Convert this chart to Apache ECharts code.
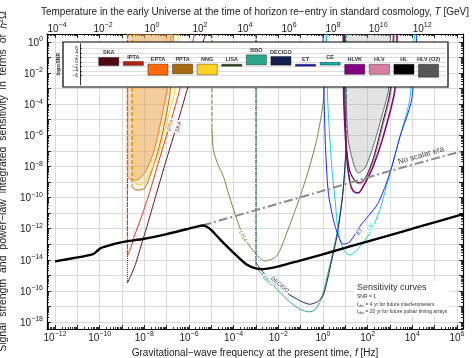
<!DOCTYPE html>
<html>
<head>
<meta charset="utf-8">
<script src="https://cdn.jsdelivr.net/npm/echarts@6/dist/echarts.min.js"></script>
<style>
  html, body { margin: 0; padding: 0; background: #fff; }
  #chart { width: 473px; height: 358px; }
</style>
</head>
<body>
<div id="chart"></div>
<script>
// all values are log10: x = log10(f / Hz), y = log10(h^2 Omega)
var X_MIN = -12.36, X_MAX = 6.27;
var Y_MIN = -18.45, Y_MAX = 0.51;

// top axis: temperature ticks and where they sit on the frequency axis
var tTickExp = [-4, -2, 0, 2, 4, 6, 8, 10, 12];
var tTickPos = [-11.91, -9.85, -7.66, -5.51, -3.49, -1.52, 0.45, 2.47, 4.44];

var xLabelVals = [-12, -10, -8, -6, -4, -2, 0, 2, 4, 6];
var yLabelVals = [0, -2, -4, -6, -8, -10, -12, -14, -16, -18];

// signal
var signal = [[-12, -14.1], [-11, -13.85], [-10.45, -13.7], [-10.25, -13.6], [-10.1, -13.42], [-9.95, -13.25],
  [-9.5, -13.05], [-9, -12.87], [-8, -12.65], [-7, -12.35], [-6, -12.0], [-5.6, -11.85], [-5.4, -11.8],
  [-5.2, -11.88], [-5.0, -12.1], [-4.6, -12.7], [-4.0, -13.55], [-3.42, -14.3], [-2.97, -14.57],
  [-2.67, -14.6], [-1.92, -14.4], [-1.03, -14.05], [-0.13, -13.7], [0.76, -13.33], [1.66, -12.96],
  [2.85, -12.48], [4.35, -11.86], [6.27, -11.07]];
var noScalar = [[-5.4, -11.8], [-0.13, -9.62], [2.85, -8.35], [6.27, -7.0]];

// sensitivity curves (cut = low-frequency cut-off, drawn dotted/dashed)
var skaCut = -8.76;
var ska = [[-8.76, -15.5], [-8.6, -15.0], [-8.4, -14.3], [-8.19, -13.3], [-7.88, -11.84], [-7.5, -9.95],
  [-7.0, -7.5], [-6.56, -5.43], [-5.95, -2.44], [-5.25, 0.51]];
var iptaCut = -8.76;
var ipta = [[-8.76, -13.76], [-8.6, -13.2], [-8.45, -12.48], [-8.12, -11.2], [-7.75, -9.6], [-7.3, -7.4],
  [-6.85, -5.3], [-6.48, -3.4], [-5.75, 0.51]];
var eptaCut = -8.74;
var epta = [[-8.74, -8.7], [-8.6, -8.85], [-8.4, -8.88], [-8.15, -8.7], [-7.9, -8.2], [-7.6, -7.14],
  [-7.37, -5.85], [-7.22, -4.79], [-7.07, -3.72], [-6.97, -2.97], [-6.8, 0.51]];
var pptaCut = -8.55;
var ppta = [[-8.55, -9.3], [-8.4, -9.5], [-8.2, -9.52], [-7.97, -9.38], [-7.7, -8.42], [-7.45, -7.35],
  [-7.22, -6.07], [-7.0, -4.57], [-6.85, -3.29], [-6.7, 0.51]];
var nngCut = -8.45;
var nng = [[-8.45, -9.0], [-8.3, -9.17], [-8.05, -9.1], [-7.8, -8.5], [-7.45, -7.56], [-7.15, -6.07],
  [-6.85, -4.36], [-6.63, -3.08], [-6.48, 0.51]];
var lisaCut = -4.97;
var lisa = [[-4.97, -5.5], [-4.91, -6.92], [-4.7, -7.9], [-4.46, -8.63], [-4.2, -9.9], [-3.86, -11.4],
  [-3.57, -12.48], [-3.12, -13.44], [-2.6, -14.08], [-2.07, -13.76], [-1.62, -12.26], [-1.18, -10.56],
  [-0.73, -8.63], [-0.28, -6.28], [0.02, -3.72], [0.15, 0.51]];
var spaceCut = -3.0;
var spaceCutHigh = 1.05;
var bbo = [[-3.0, -14.5], [-2.8, -14.83], [-2.2, -15.69], [-1.62, -16.54], [-1.03, -17.18], [-0.6, -17.35],
  [-0.35, -17.2], [-0.1, -16.6], [0.05, -15.9], [0.2, -15.0], [0.35, -14.1], [0.65, -12.1], [0.9, -9.5],
  [1.05, -6.5]];
var decigo = [[-3.0, -14.2], [-2.8, -14.6], [-2.4, -15.26], [-1.65, -16.11], [-1.0, -16.65], [-0.6, -16.86],
  [-0.25, -16.7], [0.0, -16.3], [0.15, -15.6], [0.35, -14.3], [0.65, -12.3], [0.9, -9.6], [1.05, -6.5]];
var et = [[0.0, 0.51], [0.05, -3.72], [0.12, -7.0], [0.24, -9.7], [0.46, -11.4], [0.69, -12.48], [0.9, -13.0],
  [1.2, -12.85], [1.66, -11.84], [2.45, -10.4], [3.0, -8.42], [3.45, -6.07], [3.97, -3.72], [4.2, 0.51]];
var ce = [[0.15, 0.51], [0.21, -3.72], [0.39, -7.99], [0.54, -10.13], [0.69, -12.26], [0.91, -13.33],
  [1.2, -13.7], [1.5, -13.4], [2.11, -12.26], [2.55, -10.77], [3.0, -8.42], [3.45, -6.07], [3.88, -3.72],
  [4.1, 0.51]];
var hlvk = [[0.91, 0.51], [0.92, -3.08], [1.06, -7.35], [1.21, -9.06], [1.36, -9.6], [1.58, -9.7],
  [1.81, -9.27], [2.25, -7.99], [2.7, -6.07], [3.22, -3.08], [3.32, 0.51]];
var hlv = [[0.99, 0.51], [1.0, -4.0], [1.07, -6.9], [1.22, -8.4], [1.47, -9.05], [1.67, -9.12],
  [1.92, -8.85], [2.3, -7.5], [2.7, -5.3], [3.05, -3.2], [3.2, 0.51]];
var hl = [[0.97, 0.51], [0.98, -4.0], [1.05, -6.8], [1.2, -8.3], [1.45, -8.95], [1.65, -9.05],
  [1.9, -8.75], [2.25, -7.5], [2.65, -5.3], [3.0, -3.2], [3.15, 0.51]];
var hlvO2 = [[1.0, 0.51], [1.02, -3.08], [1.13, -6.28], [1.36, -7.78], [1.58, -8.42], [1.88, -8.1],
  [2.25, -6.71], [2.63, -4.79], [2.93, -3.08], [3.02, 0.51]];

// labels written along the curves: [log f, log Omega, text, angle]
var curveLabels = [
  [-6.83, -5.38, 'IPTA', 75], [-6.47, -5.45, 'SKA', 75], [-3.58, -12.5, 'LISA', -63],
  [-2.48, -15.35, 'BBO', -45], [-1.93, -15.6, 'DECIGO', -40], [1.64, -12.2, 'ET', 45], [2.13, -11.9, 'CE', 50]
];

// inset: log10 SNR ranges
var experiments = ['SKA', 'IPTA', 'EPTA', 'PPTA', 'NNG', 'LISA', 'BBO', 'DECIGO', 'ET', 'CE', 'HLVK', 'HLV', 'HL', 'HLV (O2)'];
var snrLow = [-1.6, -1.5, -5.8, -5.2, -5.6, -1.85, -1.3, -1.4, -1.85, -1.35, -5.4, -5.4, -5.4, -6.7];
var snrHigh = [2.0, 0.2, -0.95, -0.95, -0.95, -1.0, 3.1, 2.4, -1.0, -0.2, -1.0, -1.0, -1.0, -1.0];

var col = {
  SKA: '#6a1424', IPTA: '#e3331b', EPTA: '#ff7a12', PPTA: '#a8700f', NNG: '#ffd21e', LISA: '#6f8f3b',
  BBO: '#2ba58b', DECIGO: '#1b2456', ET: '#2323ff', CE: '#10d2de', HLVK: '#7d0a7d', HLV: '#d9789c',
  HL: '#111111', 'HLV (O2)': '#666666'
};
var barCol = ['#4e0a10', '#b3200e', '#ff6a0a', '#a86a10', '#ffd324', '#2e4a1f', '#2ca68a', '#121f50',
  '#2020c0', '#00b4b4', '#800080', '#d97f9f', '#000000', '#555555'];

var FONT = 'Liberation Sans';

function pow10(v) {
  var n = Math.round(v);
  return '{b|10}{s|' + (n < 0 ? '\u2212' + (-n) : n) + '}';
}
var richPow = {
  b: { fontSize: 10, fontFamily: FONT, color: '#222', verticalAlign: 'bottom' },
  s: { fontSize: 7, fontFamily: FONT, color: '#222', verticalAlign: 'bottom', padding: [0, 0, 5, 0] }
};

var majorX = [], minorX = [], majorY = [], minorY = [];
for (var d = -13; d <= 7; d++) {
  if (d > X_MIN && d < X_MAX) majorX.push(d);
  for (var k = 2; k <= 9; k++) {
    var v = d + Math.log10(k);
    if (v > X_MIN && v < X_MAX) minorX.push(v);
  }
}
for (var e = -19; e <= 1; e++) {
  if (e > Y_MIN && e < Y_MAX) majorY.push(e);
  for (var k2 = 2; k2 <= 9; k2++) {
    var w = e + Math.log10(k2);
    if (w > Y_MIN && w < Y_MAX) minorY.push(w);
  }
}

function tickAxis(pos, vals, len, isX) {
  return {
    gridIndex: 0, type: 'value', position: pos, min: isX ? X_MIN : Y_MIN, max: isX ? X_MAX : Y_MAX,
    axisLine: { show: false, onZero: false }, splitLine: { show: false }, axisLabel: { show: false },
    axisTick: { show: true, inside: true, length: len, customValues: vals, lineStyle: { color: '#000', width: 0.8 } }
  };
}

function line(data, color, width, type) {
  return {
    type: 'line', xAxisIndex: 0, yAxisIndex: 0, data: data, symbol: 'none', smooth: 0.25,
    lineStyle: { color: color, width: width, type: type || 'solid' }, silent: true, z: 3
  };
}
function cutLine(x, yBottom, color, type) {
  return line([[x, Y_MAX], [x, yBottom]], color, 1, type);
}
function area(cut, data, fill) {
  var s = line([[cut, Y_MAX]].concat(data), fill, 0);
  s.lineStyle.opacity = 0;
  s.areaStyle = { color: fill, origin: 'end' };
  s.z = 1;
  return s;
}

var series = [
  area(nngCut, nng, 'rgba(255,225,120,0.28)'),
  area(eptaCut, epta, 'rgba(240,140,50,0.45)'),
  area(pptaCut, ppta, 'rgba(200,130,60,0.15)'),
  area(hlvO2[0][0], hlvO2, 'rgba(150,150,150,0.38)'),
  cutLine(skaCut, ska[0][1], col.SKA, 'dotted'),
  line(ska, col.SKA, 1),
  cutLine(iptaCut, ipta[0][1], col.IPTA, 'dashed'),
  line(ipta, col.IPTA, 1),
  cutLine(eptaCut, epta[0][1], col.EPTA, 'dotted'),
  line(epta, col.EPTA, 1),
  cutLine(pptaCut, ppta[0][1], col.PPTA, 'dashed'),
  line(ppta, col.PPTA, 1),
  cutLine(nngCut, nng[0][1], col.NNG, 'dashed'),
  line(nng, col.NNG, 1),
  cutLine(lisaCut, lisa[0][1], col.LISA, 'dashed'),
  line(lisa, col.LISA, 1),
  cutLine(spaceCut, bbo[0][1], col.BBO, 'dashed'),
  cutLine(spaceCutHigh, bbo[bbo.length - 1][1], col.BBO, 'dashed'),
  line(bbo, col.BBO, 1),
  cutLine(spaceCut, decigo[0][1], col.DECIGO, 'dotted'),
  line(decigo, col.DECIGO, 1),
  line(ce, col.CE, 1),
  line(et, col.ET, 1),
  line(hlvO2, col['HLV (O2)'], 1),
  line(hlv, col.HLV, 1),
  line(hl, col.HL, 1),
  line(hlvk, col.HLVK, 1.6),
  (function () { var s = line(noScalar, '#8a8a8a', 2, [9, 3, 2, 3]); s.smooth = false; return s; })(),
  (function () { var s = line(signal, '#000', 2.4); s.z = 4; return s; })(),
  {
    type: 'custom', xAxisIndex: 0, yAxisIndex: 0, z: 6, silent: true,
    data: curveLabels.map(function (l) { return [l[0], l[1]]; }),
    renderItem: function (params, api) {
      var l = curveLabels[params.dataIndex];
      var p = api.coord([api.value(0), api.value(1)]);
      return {
        type: 'text', x: p[0], y: p[1], rotation: l[3] * Math.PI / 180,
        style: {
          text: l[2], fill: col[l[2]], font: '5.5px ' + FONT, align: 'center', verticalAlign: 'middle',
          backgroundColor: '#fff', padding: [0, 1]
        }
      };
    }
  },
  {
    type: 'custom', xAxisIndex: 0, yAxisIndex: 0, z: 6, silent: true,
    data: [[4.39, -7.3]],
    renderItem: function (params, api) {
      var p = api.coord([api.value(0), api.value(1)]);
      return {
        type: 'text', x: p[0], y: p[1], rotation: 16 * Math.PI / 180,
        style: { text: 'No scalar era', fill: '#444', font: '8px ' + FONT, align: 'center', verticalAlign: 'middle' }
      };
    }
  },
  {
    type: 'custom', xAxisIndex: 4, yAxisIndex: 4, z: 60, silent: true,
    data: experiments.map(function (n, i) { return [i, snrLow[i], snrHigh[i]]; }),
    renderItem: function (params, api) {
      var i = api.value(0);
      var a = api.coord([i - 0.41, api.value(2)]);
      var b = api.coord([i + 0.41, api.value(1)]);
      return {
        type: 'group', children: [
          { type: 'rect', shape: { x: a[0], y: a[1], width: b[0] - a[0], height: b[1] - a[1] },
            style: { fill: barCol[i], stroke: 'rgba(0,0,0,0.45)', lineWidth: 0.8 } },
          { type: 'text', x: (a[0] + b[0]) / 2, y: a[1] - 1.5,
            style: { text: experiments[i], fill: '#333', font: 'bold 5.5px ' + FONT, align: 'center', verticalAlign: 'bottom' } }
        ]
      };
    }
  }
];

var chart = echarts.init(document.getElementById('chart'), null, { renderer: 'canvas' });
chart.setOption({
  animation: false,
  backgroundColor: '#fff',
  grid: [
    { left: 47, right: 10, top: 34, bottom: 29, outerBoundsMode: 'none', containLabel: false },
    { left: 80, right: 27, top: 43.7, height: 41.1, outerBoundsMode: 'none', containLabel: false }
  ],
  xAxis: [
    {
      gridIndex: 0, type: 'value', position: 'bottom', min: X_MIN, max: X_MAX,
      axisLine: { show: true, onZero: false, lineStyle: { color: '#000', width: 1.2 } },
      axisTick: { show: true, inside: true, length: 4, customValues: majorX, lineStyle: { color: '#000', width: 0.8 } },
      axisLabel: { customValues: xLabelVals, formatter: pow10, rich: richPow, margin: 2 },
      splitLine: { show: true, lineStyle: { color: '#d2d2d2', width: 0.8 } },
      name: 'Gravitational\u2212wave frequency at the present time, {i|f} [Hz]',
      nameLocation: 'middle', nameGap: 15,
      nameTextStyle: { fontSize: 10, fontFamily: FONT, color: '#222', rich: { i: { fontSize: 10, fontStyle: 'italic', fontFamily: FONT, color: '#222' } } }
    },
    tickAxis('bottom', minorX, 2, true),
    {
      gridIndex: 0, type: 'value', position: 'top', min: X_MIN, max: X_MAX,
      axisLine: { show: true, onZero: false, lineStyle: { color: '#000', width: 1.2 } },
      axisTick: { show: true, inside: true, length: 4, customValues: majorX, lineStyle: { color: '#000', width: 0.8 } },
      axisLabel: {
        customValues: tTickPos, rich: richPow, margin: 0,
        formatter: function (v) {
          for (var i = 0; i < tTickPos.length; i++) if (Math.abs(tTickPos[i] - v) < 1e-6) return pow10(tTickExp[i]);
          return '';
        }
      },
      splitLine: { show: false },
      name: 'Temperature in the early Universe at the time of horizon re\u2212entry in standard cosmology, {i|T} [GeV]',
      nameLocation: 'middle', nameGap: 11,
      nameTextStyle: { fontSize: 10, fontFamily: FONT, color: '#222', rich: { i: { fontSize: 10, fontStyle: 'italic', fontFamily: FONT, color: '#222' } } }
    },
    tickAxis('top', minorX, 2, true),
    { gridIndex: 1, type: 'value', min: -1.17, max: 13.71, show: false }
  ],
  yAxis: [
    {
      gridIndex: 0, type: 'value', position: 'left', min: Y_MIN, max: Y_MAX,
      axisLine: { show: true, onZero: false, lineStyle: { color: '#000', width: 1.2 } },
      axisTick: { show: true, inside: true, length: 4, customValues: majorY, lineStyle: { color: '#000', width: 0.8 } },
      axisLabel: { customValues: yLabelVals, formatter: pow10, rich: richPow, margin: 4 },
      splitLine: { show: true, lineStyle: { color: '#d2d2d2', width: 0.8 } },
      name: 'Signal  strength  and  power\u2212law  integrated  sensitivity  in  terms  of  {i|h}{sup|2}\u03a9',
      nameLocation: 'middle', nameGap: 27, nameRotate: 90,
      nameTextStyle: {
        fontSize: 10.5, fontFamily: FONT, color: '#222',
        rich: {
          i: { fontSize: 10.5, fontStyle: 'italic', fontFamily: FONT, color: '#222' },
          sup: { fontSize: 7, fontFamily: FONT, color: '#222', padding: [0, 0, 5, 0], verticalAlign: 'bottom' }
        }
      }
    },
    tickAxis('left', minorY, 2, false),
    (function () { var a = tickAxis('right', majorY, 4, false); a.axisLine = { show: true, onZero: false, lineStyle: { color: '#000', width: 1.2 } }; return a; })(),
    tickAxis('right', minorY, 2, false),
    {
      gridIndex: 1, type: 'value', min: -10, max: 8, interval: 2, position: 'left', z: 60,
      axisLine: { show: true, onZero: false, lineStyle: { color: '#000', width: 0.8 } },
      axisTick: { show: true, inside: true, length: 2, customValues: [-6, -4, -2, 0, 2, 4, 6], lineStyle: { color: '#000', width: 0.6 } },
      axisLabel: {
        fontSize: 5, fontFamily: FONT, color: '#222', margin: 2,
        formatter: function (v) { return (v >= -6 && v <= 6) ? String(v).replace('-', '\u2212') : ''; }
      },
      splitLine: { show: true, lineStyle: { color: '#cfcfcf', width: 0.7 } },
      name: 'log{sub|10}SNR', nameLocation: 'middle', nameGap: 8, nameRotate: 90,
      nameTextStyle: { fontSize: 5, fontWeight: 'bold', fontFamily: FONT, color: '#222',
        rich: { sub: { fontSize: 4, fontWeight: 'bold', fontFamily: FONT, color: '#222', verticalAlign: 'top' } } }
    }
  ],
  graphic: [
    { type: 'rect', z: 50, silent: true, shape: { x: 63, y: 42, width: 385, height: 45 },
      style: { fill: '#fff', stroke: '#000', lineWidth: 1.2 } },
    { type: 'text', z: 50, silent: true, x: 355, y: 281,
      style: {
        text: '{h|Sensitivity curves}\n{s|SNR = 1}\n{i|t}{sub|obs}{s| = 4 yr for future interferometers}\n{i|t}{sub|obs}{s| = 20 yr for future pulsar timing arrays}',
        backgroundColor: '#fff', padding: [1, 2, 1, 2],
        rich: {
          h: { fontSize: 9, fontFamily: FONT, fill: '#333', lineHeight: 11 },
          s: { fontSize: 5, fontFamily: FONT, fill: '#333', lineHeight: 7.5 },
          i: { fontSize: 5, fontFamily: FONT, fontStyle: 'italic', fill: '#333', lineHeight: 7.5 },
          sub: { fontSize: 3.5, fontFamily: FONT, fill: '#333', lineHeight: 7.5, verticalAlign: 'bottom' }
        }
      }
    }
  ],
  series: series
});
</script>
</body>
</html>
